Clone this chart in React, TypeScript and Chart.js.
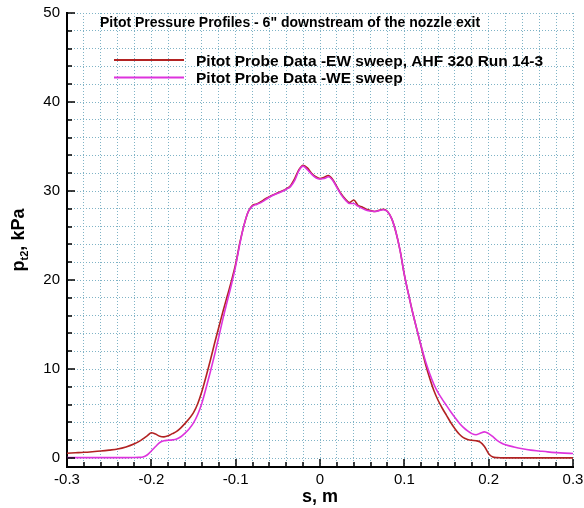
import React, { useEffect, useRef } from 'react';
import { Chart, registerables } from 'chart.js';

Chart.register(...registerables);

// ---- data ----
const sValues = [
  -0.3, -0.29, -0.28, -0.27, -0.26, -0.25, -0.24, -0.23, -0.22, -0.215, -0.21, -0.205,
  -0.2, -0.195, -0.19, -0.185, -0.18, -0.175, -0.17, -0.165, -0.16, -0.155, -0.15, -0.145,
  -0.14, -0.135, -0.13, -0.125, -0.12, -0.115, -0.11, -0.105, -0.1, -0.095, -0.09, -0.085,
  -0.08, -0.075, -0.07, -0.065, -0.06, -0.055, -0.05, -0.045, -0.04, -0.035, -0.03, -0.025,
  -0.02, -0.015, -0.01, -0.005, 0, 0.005, 0.01, 0.015, 0.02, 0.025, 0.03, 0.035,
  0.04, 0.045, 0.05, 0.055, 0.06, 0.065, 0.07, 0.075, 0.08, 0.085, 0.09, 0.095,
  0.1, 0.105, 0.11, 0.115, 0.12, 0.125, 0.13, 0.135, 0.14, 0.145, 0.15, 0.155,
  0.16, 0.165, 0.17, 0.175, 0.18, 0.185, 0.19, 0.195, 0.2, 0.205, 0.21, 0.215,
  0.22, 0.23, 0.24, 0.25, 0.26, 0.27, 0.28, 0.29, 0.3,
];

const pEW = [
  0.55, 0.6, 0.65, 0.72, 0.8, 0.9, 1.02, 1.25, 1.6, 1.85, 2.15, 2.5,
  2.85, 2.7, 2.45, 2.38, 2.5, 2.75, 3.0, 3.4, 3.9, 4.45, 5.1, 6.1,
  7.5, 9.2, 11.0, 12.9, 14.7, 16.5, 18.2, 19.9, 21.8, 24.2, 26.2, 27.7,
  28.4, 28.55, 28.8, 29.1, 29.35, 29.6, 29.8, 30.0, 30.25, 30.6, 31.4, 32.4,
  32.9, 32.6, 32.0, 31.6, 31.4, 31.55, 31.75, 31.3, 30.5, 29.7, 29.1, 28.7,
  29.0, 28.4, 28.2, 27.95, 27.8, 27.7, 27.85, 27.95, 27.7, 26.9, 25.4, 23.3,
  20.6, 18.4, 16.3, 14.4, 12.5, 10.6, 9.0, 7.6, 6.5, 5.6, 4.8, 4.0,
  3.3, 2.7, 2.3, 2.1, 2.0, 1.95, 1.8, 1.3, 0.5, 0.12, 0.05, 0.03,
  0.02, 0.02, 0.02, 0.02, 0.02, 0.02, 0.02, 0.02, 0.02,
];

const pWE = [
  0.05, 0.05, 0.05, 0.05, 0.05, 0.05, 0.05, 0.05, 0.06, 0.08, 0.12, 0.35,
  0.8, 1.3, 1.75, 1.95, 2.0, 2.05, 2.15, 2.4, 2.8, 3.3, 3.95, 4.9,
  6.2, 7.9, 9.7, 11.6, 13.6, 15.7, 17.6, 19.5, 21.6, 24.1, 26.2, 27.7,
  28.3, 28.5, 28.7, 29.0, 29.3, 29.55, 29.75, 29.95, 30.2, 30.5, 31.2, 32.3,
  32.8, 32.4, 31.9, 31.5, 31.35, 31.4, 31.6, 31.2, 30.4, 29.6, 29.0, 28.6,
  28.6, 28.3, 28.05, 27.85, 27.75, 27.7, 27.8, 27.9, 27.7, 26.9, 25.4, 23.3,
  20.6, 18.4, 16.3, 14.4, 12.6, 10.9, 9.5, 8.3, 7.35, 6.6, 5.9, 5.2,
  4.55, 3.95, 3.45, 3.05, 2.75, 2.62, 2.8, 2.95, 2.75, 2.4, 2.0, 1.7,
  1.5, 1.25, 1.05, 0.9, 0.8, 0.7, 0.62, 0.56, 0.52,
];

const seriesLabels = [
  'Pitot Probe Data -EW sweep, AHF 320 Run 14-3',
  'Pitot Probe Data -WE sweep',
];
const seriesColors = ['#b22222', '#dd33dd'];
const titleText = 'Pitot Pressure Profiles - 6" downstream of the nozzle exit';
const xTitle = 's, m';
const yTitleMain = 'p';
const yTitleSub = 't2';
const yTitleRest = ', kPa';

const xRange = [-0.3, 0.3];
const yRange = [-1, 50];
const xMajorTicks = [-0.3, -0.2, -0.1, 0, 0.1, 0.2, 0.3];
const xTickLabels = ['-0.3', '-0.2', '-0.1', '0', '0.1', '0.2', '0.3'];
const yMajorTicks = [0, 10, 20, 30, 40, 50];
const yTickLabels = ['0', '10', '20', '30', '40', '50'];
const xMinorStep = 0.02;
const yMinorStep = 2;

const FONT = '"Liberation Sans", Arial, Helvetica, sans-serif';
const GRID_COLOR = '#7fb3c6';

function stepValues(from: number, to: number, step: number): number[] {
  const n = Math.round((to - from) / step);
  const out: number[] = [];
  for (let i = 0; i <= n; i++) out.push(Math.round((from + i * step) * 1e6) / 1e6);
  return out;
}

function majorIndex(v: number, majors: number[]): number {
  return majors.findIndex((m) => Math.abs(m - v) < 1e-6);
}

const decorPlugin = {
  id: 'decor',
  afterDatasetsDraw(chart: any) {
    const { ctx, chartArea, scales } = chart;
    const xs = scales.x;
    const ys = scales.y;
    ctx.save();
    ctx.strokeStyle = '#000';
    ctx.lineWidth = 1.5;
    for (const v of stepValues(xRange[0], xRange[1], xMinorStep)) {
      const px = Math.round(xs.getPixelForValue(v));
      const len = majorIndex(v, xMajorTicks) >= 0 ? 8 : 5;
      ctx.beginPath();
      ctx.moveTo(px, chartArea.bottom);
      ctx.lineTo(px, chartArea.bottom - len);
      ctx.stroke();
    }
    for (const v of stepValues(0, yRange[1], yMinorStep)) {
      const py = Math.round(ys.getPixelForValue(v));
      const len = majorIndex(v, yMajorTicks) >= 0 ? 8 : 5;
      ctx.beginPath();
      ctx.moveTo(chartArea.left, py);
      ctx.lineTo(chartArea.left + len, py);
      ctx.stroke();
    }
    ctx.restore();
  },
  afterDraw(chart: any) {
    const { ctx, chartArea } = chart;
    ctx.save();
    ctx.fillStyle = '#000';
    ctx.textBaseline = 'alphabetic';
    ctx.textAlign = 'left';
    // title
    ctx.font = `bold 14px ${FONT}`;
    ctx.fillText(titleText, 100, 26.5);
    // legend
    const legendY = [60, 77.5];
    ctx.font = `bold 15.5px ${FONT}`;
    seriesLabels.forEach((lab, i) => {
      ctx.strokeStyle = seriesColors[i];
      ctx.lineWidth = 2;
      ctx.beginPath();
      ctx.moveTo(114, legendY[i]);
      ctx.lineTo(184, legendY[i]);
      ctx.stroke();
      ctx.fillText(lab, 196, legendY[i] + 5.5);
    });
    // x title
    ctx.font = `bold 18px ${FONT}`;
    ctx.textAlign = 'center';
    ctx.fillText(xTitle, (chartArea.left + chartArea.right) / 2, 502);
    // y title (rotated with subscript)
    ctx.textAlign = 'left';
    ctx.font = `bold 18px ${FONT}`;
    const wMain = ctx.measureText(yTitleMain).width;
    const wRest = ctx.measureText(yTitleRest).width;
    ctx.font = `bold 11px ${FONT}`;
    const wSub = ctx.measureText(yTitleSub).width;
    const total = wMain + wSub + wRest;
    const cy = (chartArea.top + chartArea.bottom) / 2;
    ctx.translate(24, cy + total / 2);
    ctx.rotate(-Math.PI / 2);
    ctx.font = `bold 18px ${FONT}`;
    ctx.fillText(yTitleMain, 0, 0);
    ctx.font = `bold 11px ${FONT}`;
    ctx.fillText(yTitleSub, wMain, 4);
    ctx.font = `bold 18px ${FONT}`;
    ctx.fillText(yTitleRest, wMain + wSub, 0);
    ctx.restore();
  },
};

export default function App() {
  const canvasRef = useRef<HTMLCanvasElement | null>(null);

  useEffect(() => {
    if (!canvasRef.current) return;
    const toPoints = (ys: number[]) => sValues.map((s, i) => ({ x: s, y: ys[i] }));
    const chart = new Chart(canvasRef.current, {
      type: 'line',
      data: {
        datasets: [
          {
            label: seriesLabels[0],
            data: toPoints(pEW),
            borderColor: seriesColors[0],
            borderWidth: 1.6,
            pointRadius: 0,
            cubicInterpolationMode: 'monotone',
            fill: false,
            order: 1,
          },
          {
            label: seriesLabels[1],
            data: toPoints(pWE),
            borderColor: seriesColors[1],
            borderWidth: 1.6,
            pointRadius: 0,
            cubicInterpolationMode: 'monotone',
            fill: false,
            order: 0,
          },
        ],
      },
      options: {
        responsive: false,
        animation: false,
        devicePixelRatio: 1,
        layout: { padding: { left: 0, right: 11, top: 13, bottom: 0 } },
        plugins: {
          legend: { display: false },
          title: { display: false },
          tooltip: { enabled: false },
        },
        scales: {
          x: {
            type: 'linear',
            min: xRange[0],
            max: xRange[1],
            afterBuildTicks: (sc: any) => {
              sc.ticks = stepValues(xRange[0], xRange[1], xMinorStep).map((v) => ({ value: v }));
            },
            afterFit: (sc: any) => {
              sc.height = 41;
              sc.paddingLeft = 0;
              sc.paddingRight = 0;
              sc.paddingTop = 0;
              sc.paddingBottom = 0;
            },
            ticks: {
              autoSkip: false,
              maxRotation: 0,
              padding: 4,
              color: '#000',
              font: { family: FONT, size: 15 },
              callback: (v: any) => {
                const k = majorIndex(Number(v), xMajorTicks);
                return k >= 0 ? xTickLabels[k] : '';
              },
            },
            grid: { color: GRID_COLOR, lineWidth: 1, drawTicks: false },
            border: { display: true, color: '#000', width: 2, dash: [1, 2] },
          },
          y: {
            type: 'linear',
            min: yRange[0],
            max: yRange[1],
            afterBuildTicks: (sc: any) => {
              sc.ticks = stepValues(0, yRange[1], yMinorStep).map((v) => ({ value: v }));
            },
            afterFit: (sc: any) => {
              sc.width = 67;
              sc.paddingLeft = 0;
              sc.paddingRight = 0;
              sc.paddingTop = 0;
              sc.paddingBottom = 0;
            },
            ticks: {
              autoSkip: false,
              padding: 7,
              color: '#000',
              font: { family: FONT, size: 15 },
              callback: (v: any) => {
                const k = majorIndex(Number(v), yMajorTicks);
                return k >= 0 ? yTickLabels[k] : '';
              },
            },
            grid: { color: GRID_COLOR, lineWidth: 1, drawTicks: false },
            border: { display: true, color: '#000', width: 2, dash: [1, 2] },
          },
        },
      },
      plugins: [decorPlugin],
    } as any);
    return () => chart.destroy();
  }, []);

  return (
    <div style={{ position: 'absolute', left: 0, top: 0, width: 584, height: 508, background: '#fff' }}>
      <canvas ref={canvasRef} width={584} height={508} style={{ display: 'block' }} />
    </div>
  );
}
